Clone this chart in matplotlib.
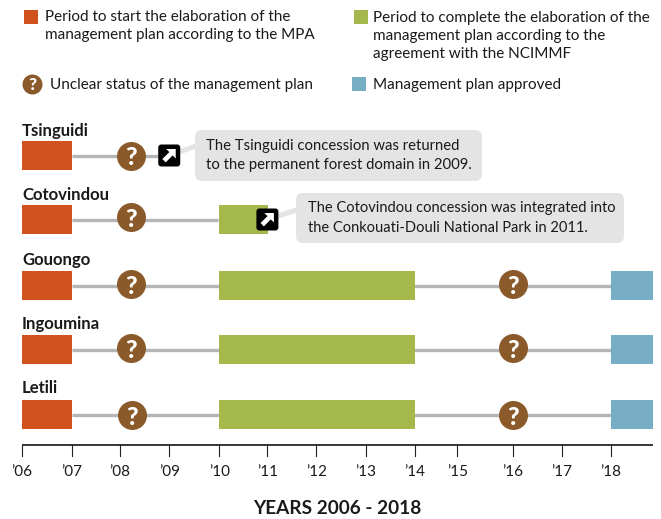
import matplotlib
matplotlib.use("Agg")
import matplotlib.pyplot as plt
from matplotlib.patches import Rectangle, FancyBboxPatch, Polygon

FONT = "Lato"
plt.rcParams["font.family"] = [FONT, "DejaVu Sans"]

ORANGE, GREEN, BLUE, BROWN = "#d1511f", "#a5b84c", "#77aec5", "#8b5a2b"
LINE, CALL = "#b5b5b5", "#e4e4e4"

years = list(range(2006, 2019))
tick_positions = [2006, 2007.02, 2008.0, 2009.0, 2010.02, 2011, 2012, 2013, 2014, 2014.87, 2016, 2017, 2018]
tick_labels = ["\u2019%02d" % (y % 100) for y in years]
concessions = ["Tsinguidi", "Cotovindou", "Gouongo", "Ingoumina", "Letili"]
start_period = [(2006, 2007.02)] * 5
complete_period = [None, (2010.02, 2011.01), (2010.02, 2014), (2010.02, 2014), (2010.02, 2014)]
approved_period = [None, None, (2018, 2018.86), (2018, 2018.86), (2018, 2018.86)]
line_end = [2009, 2010, 2018, 2018, 2018]
unclear = [[2008.22], [2008.22], [2008.22, 2016], [2008.22, 2016], [2008.24, 2016]]
icons = [2009, 2011, None, None, None]
notes = ["The Tsinguidi concession was returned\nto the permanent forest domain in 2009.",
         "The Cotovindou concession was integrated into\nthe Conkouati-Douli National Park in 2011.",
         None, None, None]

W, H = 661, 519
X0, PY = 22, 49.08
fig = plt.figure(figsize=(W / 100, H / 100), dpi=100)
ax = fig.add_axes([0, 0, 1, 1])
ax.set_xlim(2006 - X0 / PY, 2006 + (W - X0) / PY)
ax.set_ylim(H, 0)
ax.axis("off")
px = fig.add_axes([0, 0, 1, 1], sharey=ax)
px.set_xlim(0, W)
px.patch.set_alpha(0)
px.axis("off")

row_mid = [155.5, 219.5, 285.5, 349.5, 414.5]
circle_y = [155.5, 217, 284, 348, 415]
label_y = [131, 195, 260, 324, 388]
BAR_H = 29
TXT = "#1a1a1a"


def to_px(x):
    return X0 + (x - 2006) * PY


def qmark(x, y, r_px, fs):
    px.plot([x], [y], "o", ms=r_px * 2 * 0.72, mfc=BROWN, mec="none", zorder=5)
    px.text(x, y + 0.2, "?", color="white", fontsize=fs, fontweight="black", ha="center", va="center_baseline", zorder=6)


def icon(cx, y):
    px.add_patch(FancyBboxPatch((cx - 9.5, y - 9.5), 19, 19, boxstyle="round,pad=1.5,rounding_size=3",
                                fc="black", ec="none", zorder=7))
    pts = [(6.5, -6.5), (6.5, 3.0), (3.4, -0.1), (-3.5, 6.9), (-6.9, 3.5), (0.1, -3.4), (-3.0, -6.5)]
    px.add_patch(Polygon([(cx + a, y + b) for a, b in pts], closed=True, fc="white", ec="none", zorder=8))


for i, name in enumerate(concessions):
    y = row_mid[i]
    px.text(X0, label_y[i], name, fontsize=12.1, fontweight="bold", color=TXT, va="center", ha="left")
    ax.plot([start_period[i][1], line_end[i]], [y, y], color=LINE, lw=2.4, zorder=1, solid_capstyle="butt")
    for per, col in ((start_period[i], ORANGE), (complete_period[i], GREEN), (approved_period[i], BLUE)):
        if per:
            ax.add_patch(Rectangle((per[0], y - BAR_H / 2), per[1] - per[0], BAR_H, fc=col, ec="none", zorder=2))
    for u in unclear[i]:
        qmark(to_px(u), circle_y[i], 14.5, 18)

# callouts
boxes = [(195, 130, 287, 51), (296, 193, 328, 50)]
note_size = [10.7, 10.5]
for k, b in enumerate(boxes):
    y = row_mid[k]
    cx = to_px(icons[k])
    px.plot([cx, b[0] + 8], [y, y - 12], color=CALL, lw=3.6, zorder=1.5)
    px.add_patch(FancyBboxPatch((b[0] + 7, b[1] + 7), b[2] - 14, b[3] - 14,
                                boxstyle="round,pad=7,rounding_size=7", fc=CALL, ec="none", zorder=3))
    px.text(b[0] + 11 + (1 if k else 0), b[1] + b[3] / 2, notes[k], fontsize=note_size[k], color=TXT,
            va="center", ha="left", linespacing=1.5, zorder=4)
    icon(cx, y)

# axis
AX_Y = 445
ax.plot([2006, 2018.86], [AX_Y, AX_Y], color="black", lw=1.1, zorder=3, solid_capstyle="butt")
for pos, lab in zip(tick_positions, tick_labels):
    ax.plot([pos, pos], [AX_Y, AX_Y + 11], color="#222222", lw=0.8, zorder=3)
    ax.text(pos, 472, lab, fontsize=11, color=TXT, ha="center", va="center")
px.text(337, 508, "YEARS 2006 - 2018", fontsize=13.7, fontweight="bold", color=TXT, ha="center", va="center")

# legend
LEG = 10.95
LS = 1.36
px.add_patch(Rectangle((24, 10), 14, 14, fc=ORANGE, ec="none"))
px.text(45, 26, "Period to start the elaboration of the\nmanagement plan according to the MPA",
        fontsize=LEG, color=TXT, va="center", ha="left", linespacing=LS)
px.add_patch(Rectangle((354, 10), 14, 14, fc=GREEN, ec="none"))
px.text(373, 36, "Period to complete the elaboration of the\nmanagement plan according to the\nagreement with the NCIMMF",
        fontsize=LEG, color=TXT, va="center", ha="left", linespacing=LS)
qmark(32, 83.5, 10, 12.5)
px.text(50, 85, "Unclear status of the management plan", fontsize=LEG, color=TXT, va="center", ha="left")
px.add_patch(Rectangle((352, 77), 14, 14, fc=BLUE, ec="none"))
px.text(373, 85, "Management plan approved", fontsize=LEG, color=TXT, va="center", ha="left")

fig.savefig("out.png", dpi=100)
